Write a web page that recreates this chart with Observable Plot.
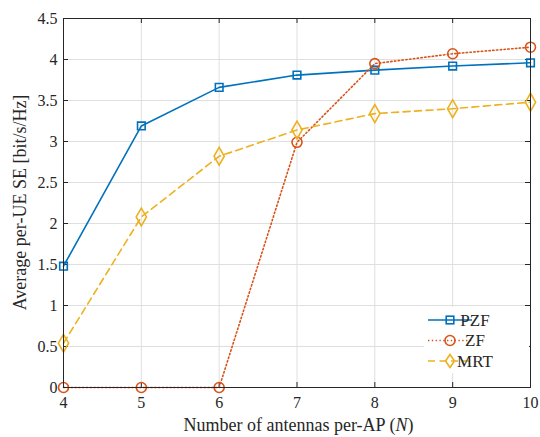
<!DOCTYPE html>
<html>
<head>
<meta charset="utf-8">
<script src="https://cdn.jsdelivr.net/npm/d3@7"></script>
<script src="https://cdn.jsdelivr.net/npm/@observablehq/plot@0.6"></script>
<style>
  html, body { margin: 0; padding: 0; background: #fff; }
  #chart svg { display: block; }
  #chart svg text { font-family: 'Liberation Serif', 'DejaVu Serif', serif !important; }
</style>
</head>
<body>
<div id="chart"></div>
<script>
const antennas = [4, 5, 6, 7, 8, 9, 10];
const pzf = [1.48, 3.19, 3.66, 3.81, 3.87, 3.92, 3.96];
const zf  = [0, 0, 0, 2.99, 3.95, 4.07, 4.15];
const mrt = [0.54, 2.08, 2.82, 3.14, 3.34, 3.40, 3.48];
const xTicks = [4, 5, 6, 7, 8, 9, 10];
const yTicks = [0, 0.5, 1, 1.5, 2, 2.5, 3, 3.5, 4, 4.5];
const seriesNames = ["PZF", "ZF", "MRT"];
const colors = ["#0072BD", "#D95319", "#EDB120"];

const FONT = "'Liberation Serif', 'DejaVu Serif', serif";
const rows = (vals) => antennas.map((n, i) => ({n, v: vals[i]}));
const dPZF = rows(pzf), dZF = rows(zf), dMRT = rows(mrt);

const W = 540, H = 437;
const mt = 18, mr = 10, mb = 50, ml = 63;
const tickLenY = 5 / (H - mt - mb) * 4.5;
const tickLenX = 5 / (W - ml - mr) * 6;
const axisCol = "#262626";

const plot = Plot.plot({
  width: W, height: H,
  marginTop: mt, marginRight: mr, marginBottom: mb, marginLeft: ml,
  style: {fontFamily: FONT, fontSize: "16px", color: axisCol, background: "#fff", overflow: "visible"},
  x: {domain: [4, 10], ticks: xTicks},
  y: {domain: [0, 4.5], ticks: yTicks},
  marks: [
    Plot.ruleX(xTicks, {stroke: "#dfdfdf", strokeWidth: 1}),
    Plot.ruleY(yTicks, {stroke: "#dfdfdf", strokeWidth: 1}),
    Plot.ruleX(xTicks, {y1: 0, y2: tickLenY, stroke: axisCol}),
    Plot.ruleX(xTicks, {y1: 4.5 - tickLenY, y2: 4.5, stroke: axisCol}),
    Plot.ruleY(yTicks, {x1: 4, x2: 4 + tickLenX, stroke: axisCol}),
    Plot.ruleY(yTicks, {x1: 10 - tickLenX, x2: 10, stroke: axisCol}),
    Plot.axisX({ticks: xTicks, tickSize: 0, tickPadding: 9, label: null, fontSize: 16, tickFormat: d => String(d)}),
    Plot.axisY({ticks: yTicks, tickSize: 0, tickPadding: 6, label: null, fontSize: 16, tickFormat: d => String(d)}),
    Plot.line(dPZF, {x: "n", y: "v", stroke: colors[0], strokeWidth: 1.6}),
    Plot.line(dZF, {x: "n", y: "v", stroke: colors[1], strokeWidth: 1.6, strokeDasharray: "1.4,2.4"}),
    Plot.line(dMRT, {x: "n", y: "v", stroke: colors[2], strokeWidth: 1.6, strokeDasharray: "7,4.5"}),
    Plot.dot(dPZF, {x: "n", y: "v", symbol: "square", r: 4.3, stroke: colors[0], strokeWidth: 1.6, fill: "none"}),
    Plot.dot(dZF, {x: "n", y: "v", symbol: "circle", r: 5, stroke: colors[1], strokeWidth: 1.6, fill: "none"}),
    Plot.dot(dMRT, {x: "n", y: "v", symbol: "diamond", r: 5.4, stroke: colors[2], strokeWidth: 1.6, fill: "none"}),
    Plot.frame({stroke: axisCol, strokeWidth: 1})
  ]
});

document.getElementById("chart").appendChild(plot);

const svg = d3.select(plot);
const xl = svg.append("text")
  .attr("x", ml + (W - ml - mr) / 2 + 2).attr("y", 431)
  .attr("text-anchor", "middle")
  .attr("font-size", 18).attr("fill", axisCol);
xl.append("tspan").text("Number of antennas per-AP (");
xl.append("tspan").attr("font-style", "italic").text("N");
xl.append("tspan").text(")");
svg.append("text")
  .attr("transform", `translate(26,${mt + (H - mt - mb) / 2}) rotate(-90)`)
  .attr("text-anchor", "middle")
  .attr("font-size", 18).attr("fill", axisCol)
  .text("Average per-UE SE [bit/s/Hz]");

const lg = svg.append("g");
const lx = 424, ly0 = 320, dy = 20.5;
lg.append("rect").attr("x", lx).attr("y", ly0 - 13).attr("width", W - mr - lx - 1).attr("height", 66).attr("fill", "#fff");
const dashes = [null, "1.4,2.4", "7,4.5"];
const syms = ["square", "circle", "diamond"];
seriesNames.forEach((name, i) => {
  const y = ly0 + i * dy;
  lg.append("line").attr("x1", lx + 4).attr("x2", lx + 48).attr("y1", y).attr("y2", y)
    .attr("stroke", colors[i]).attr("stroke-width", 1.6)
    .attr("stroke-dasharray", dashes[i]);
  const cx = lx + 26;
  if (syms[i] === "square") {
    lg.append("rect").attr("x", cx - 3.8).attr("y", y - 3.8).attr("width", 7.6).attr("height", 7.6)
      .attr("fill", "none").attr("stroke", colors[i]).attr("stroke-width", 1.6);
  } else if (syms[i] === "circle") {
    lg.append("circle").attr("cx", cx).attr("cy", y).attr("r", 5)
      .attr("fill", "none").attr("stroke", colors[i]).attr("stroke-width", 1.6);
  } else {
    lg.append("path").attr("d", `M${cx},${y - 6.5}L${cx + 4.5},${y}L${cx},${y + 6.5}L${cx - 4.5},${y}Z`)
      .attr("fill", "none").attr("stroke", colors[i]).attr("stroke-width", 1.6);
  }
  lg.append("text").attr("x", lx + 51).attr("y", y).attr("dy", "0.35em")
    .attr("font-size", 17).attr("fill", axisCol).text(name);
});
</script>
</body>
</html>
